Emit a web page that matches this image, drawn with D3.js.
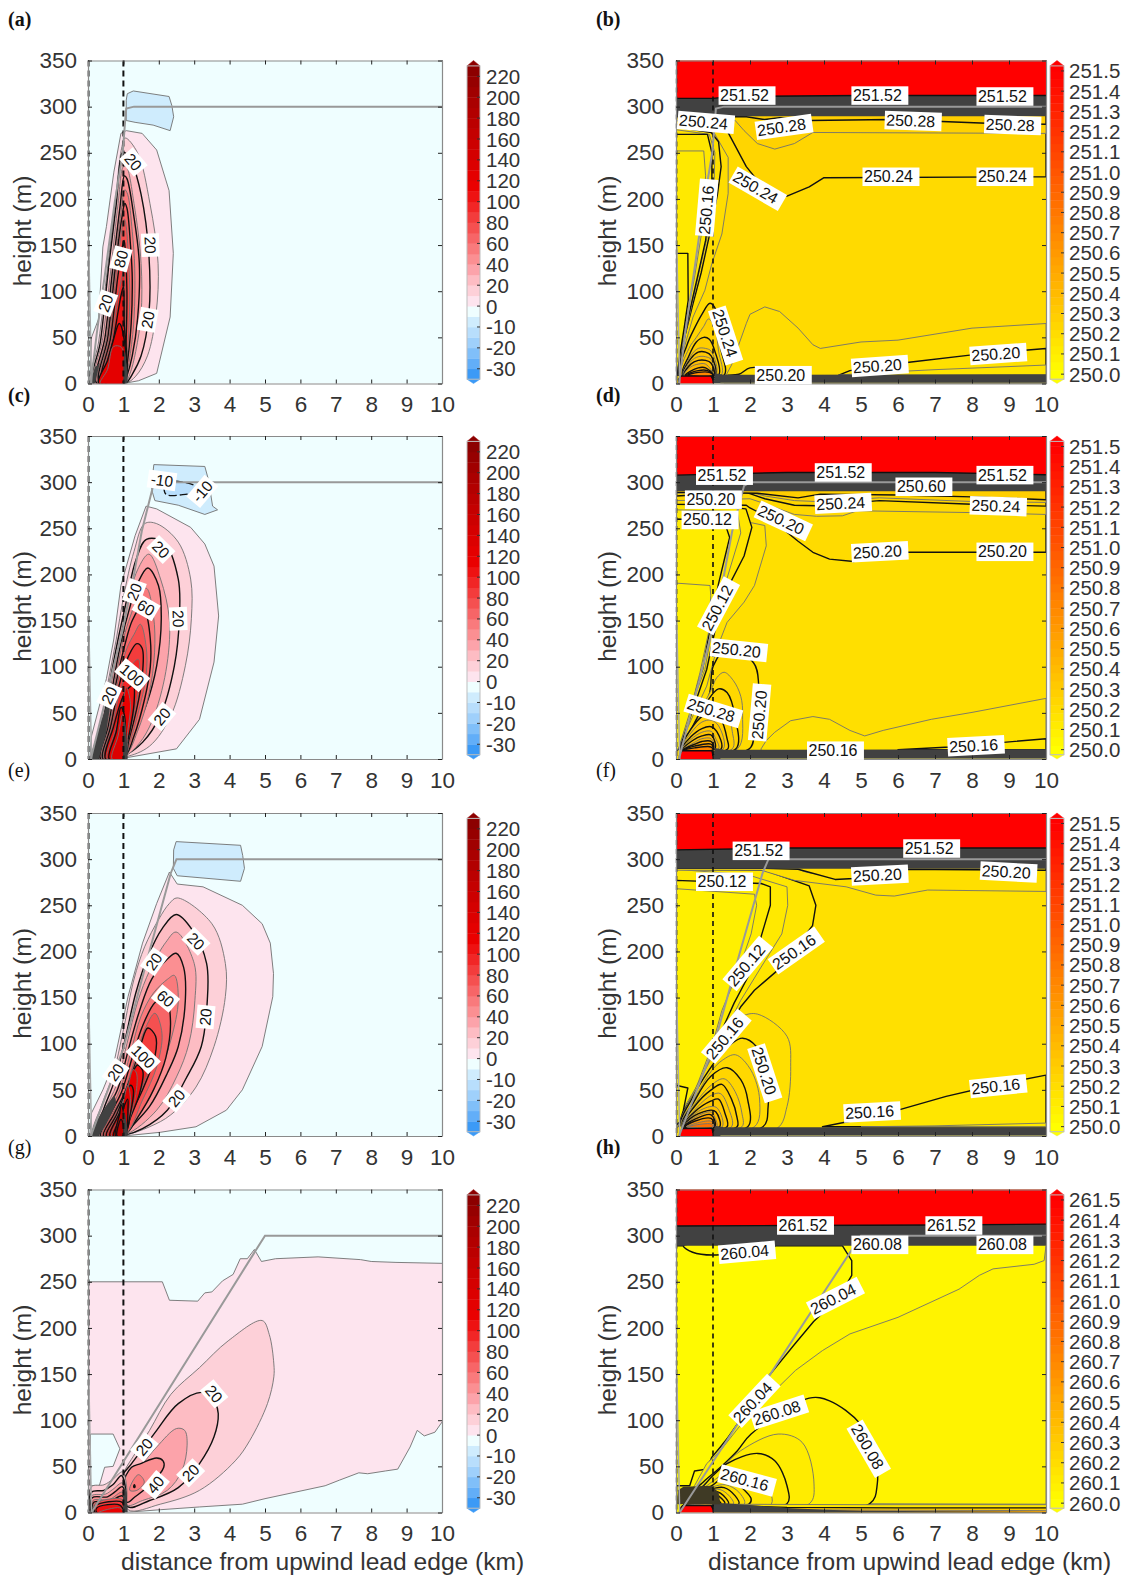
<!DOCTYPE html>
<html><head><meta charset="utf-8">
<script src="https://cdnjs.cloudflare.com/ajax/libs/d3/7.8.5/d3.min.js"></script>
<style>html,body{margin:0;padding:0;background:#fff}svg{display:block}</style></head>
<body><div id="chart"></div>
<script>
// ---------- tick labels ----------
const xTicks=[0,1,2,3,4,5,6,7,8,9,10];
const yTicks=[0,50,100,150,200,250,300,350];
const leftBarTicks=[-30,-20,-10,0,20,40,60,80,100,120,140,160,180,200,220];
const rightBarTicks=[0,.1,.2,.3,.4,.5,.6,.7,.8,.9,1,1.1,1.2,1.3,1.4,1.5];
// ---------- left colour bands ----------
const leftLevels=[-35,-30,-25,-20,-15,-10,-5,0,10,20,30,40,50,60,70,80,90,100,110,120,130,140,150,160,170,180,190,200,210,220,230];
const leftColors=['#3c9af6','#62aef8','#80bff9','#9fd0fb','#b8defc','#cfecfd','#effeff','#fde4ee','#fdd0d8','#fdbcc3','#fca3aa','#fb8f92','#f97a7c','#f76567','#f55050','#f33c3c','#f12626','#ee1212','#ea0000','#e40000','#dc0000','#d40000','#cc0000','#c40000','#bb0000','#b20000','#aa0000','#a00000','#960000','#8c0000'];
// ---------- vertical velocity contours: [level, (band), points km/m] ----------
const contoursA=[
[-5,-10,[[1.08,307],[1.11,314],[1.28,317],[2.29,311],[2.37,301],[2.42,289],[2.32,274],[1.84,280],[1.33,283],[1.08,285]]],
[0,[[.05,0],[.1,50],[.3,70],[.42,148],[.52,170],[.73,229],[.93,271],[1.08,274],[1.53,271],[1.94,253],[2.29,209],[2.41,141],[2.32,72],[1.94,11],[1.43,3],[1,0]]],
[10,[[.1,0],[.3,45],[.55,125],[.75,190],[.95,255],[1.05,266],[1.4,250],[1.75,195],[1.98,130],[1.92,75],[1.68,30],[1.35,8],[1.05,0]]],
[20,[[.15,0],[.35,45],[.58,125],[.8,195],[.97,250],[1.05,250],[1.25,238],[1.5,205],[1.72,140],[1.72,75],[1.5,30],[1.25,10],[1.05,0]]],
[30,[[.2,0],[.42,50],[.65,125],[.85,195],[1,235],[1.08,235],[1.3,195],[1.5,130],[1.5,75],[1.35,35],[1.18,10],[1.03,0]]],
[40,[[.25,0],[.48,50],[.7,125],[.9,190],[1.03,225],[1.1,222],[1.3,180],[1.45,130],[1.4,70],[1.25,30],[1.1,8],[1.02,0]]],
[50,[[.3,0],[.52,50],[.74,125],[.93,185],[1.04,210],[1.12,205],[1.25,165],[1.32,125],[1.3,70],[1.18,28],[1.08,8],[1.02,0]]],
[60,[[.33,0],[.56,50],[.77,125],[.95,178],[1.04,195],[1.1,190],[1.2,150],[1.25,115],[1.22,65],[1.12,25],[1.05,8],[1.01,0]]],
[70,[[.36,0],[.6,50],[.8,120],[.97,170],[1.03,178],[1.08,170],[1.15,130],[1.18,100],[1.15,55],[1.08,20],[1.01,0]]],
[80,[[.4,0],[.64,50],[.84,115],[.98,150],[1.02,155],[1.06,140],[1.1,100],[1.08,50],[1.04,15],[1.01,0]]],
[90,[[.45,0],[.68,50],[.88,100],[1,120],[1.03,110],[1.05,70],[1.03,20],[1.01,0]]],
[100,[[.5,0],[.73,50],[.93,95],[1,105],[1.02,70],[1.01,0]]],
[120,[[.3,0],[.55,25],[.7,45],[.88,65],[.97,58],[.99,0]]],
[110,120,[[.35,0],[.55,15],[.72,40],[.95,39],[.99,0]]],
[1,'dark',[[1,0],[1,25],[1.05,35],[1.12,8],[1.12,0]]],
[1,'dark',[[.05,0],[.2,18],[.33,22],[.2,0]]]
];
const contoursC=[
[-5,-10,[[1.86,319],[3.3,317],[3.4,303],[3.52,274],[3.66,270],[3.3,265],[2.55,275],[1.89,280],[1.82,289],[1.79,296]]],
[-10,-15,[[2.2,300],[3.05,296],[3.2,290],[2.8,287],[2.2,287]]],
[0,[[.05,0],[.1,25],[.52,87],[.73,130],[.93,188],[1.33,242],[1.64,274],[1.94,271],[2.9,251],[3.3,233],[3.56,209],[3.69,155],[3.56,105],[3.15,43],[2.5,11],[1.03,1]]],
[10,[[.15,0],[.35,35],[.55,80],[.8,130],[1,175],[1.3,225],[1.6,255],[1.94,255],[2.55,235],[2.9,195],[2.92,152],[2.75,101],[2.34,47],[1.74,14],[1.03,2]]],
[20,[[.2,0],[.4,35],[.6,80],[.85,130],[1.05,165],[1.35,215],[1.65,238],[2.14,235],[2.55,195],[2.58,152],[2.44,101],[2.04,47],[1.54,18],[1.03,4]]],
[30,[[.25,0],[.45,35],[.65,80],[.9,130],[1.1,165],[1.4,205],[1.72,222],[2.05,195],[2.3,150],[2.2,95],[1.82,42],[1.45,17],[1.03,3]]],
[40,[[.3,0],[.5,35],[.7,80],[.95,130],[1.15,160],[1.4,190],[1.69,207],[1.99,188],[2.07,152],[1.94,101],[1.64,58],[1.23,22],[1.03,3]]],
[50,[[.33,0],[.53,35],[.74,80],[1,130],[1.2,155],[1.45,178],[1.65,185],[1.85,155],[1.88,115],[1.72,70],[1.4,30],[1.03,3]]],
[60,[[.36,0],[.57,35],[.78,80],[1.05,125],[1.25,150],[1.5,165],[1.62,160],[1.76,130],[1.76,100],[1.6,65],[1.3,25],[1.03,3]]],
[70,[[.4,0],[.6,35],[.82,80],[1.1,120],[1.3,135],[1.48,146],[1.66,115],[1.62,85],[1.45,55],[1.2,20],[1.03,3]]],
[80,[[.43,0],[.64,35],[.88,80],[1.15,112],[1.38,125],[1.53,120],[1.52,85],[1.35,50],[1.15,20],[1.03,3]]],
[90,[[.46,0],[.68,35],[.92,75],[1.2,100],[1.42,108],[1.42,75],[1.25,40],[1.1,15],[1.02,3]]],
[100,[[.5,0],[.72,35],[.96,65],[1.1,75],[1.28,80],[1.3,60],[1.18,30],[1.06,10],[1.02,2]]],
[110,[[.55,0],[.76,30],[1,65],[1.08,78],[1.2,60],[1.12,30],[1.02,2]]],
[120,[[.6,0],[.8,30],[.93,56],[1,52],[1.06,20],[1,0]]],
[130,[[.68,0],[.85,25],[.97,48],[.99,48],[1,0]]],
[1,'dark',[[.99,0],[.99,38],[1.03,42],[1.12,10],[1.12,0]]],
[1,'dark',[[.05,0],[.2,20],[.55,62],[.62,58],[.5,25],[.3,0]]]
];
const contoursE=[
[-5,-10,[[2.49,319],[4.31,315],[4.37,304],[4.42,290],[4.31,276],[2.52,282],[2.41,290],[2.42,310]]],
[0,[[.05,0],[.1,25],[.42,50],[.73,79],[1.13,151],[1.54,209],[1.94,252],[2.3,286],[2.52,273],[3.25,270],[4.36,250],[4.92,230],[5.15,209],[5.24,176],[5.22,151],[4.92,97],[4.36,50],[3.91,28],[3.05,10],[2.04,4],[1,0]]],
[10,[[.15,0],[.4,35],[.7,65],[1,115],[1.3,170],[1.6,205],[2,235],[2.3,252],[2.52,258],[3.5,230],[3.88,187],[3.88,151],[3.56,97],[3.05,53],[2.34,23],[1.74,10],[1.03,1]]],
[20,[[.2,0],[.45,30],[.75,60],[1.05,105],[1.35,155],[1.7,195],[2.1,225],[2.49,240],[2.95,223],[3.35,187],[3.37,147],[3.2,97],[2.75,61],[2.24,28],[1.54,8],[1.03,1]]],
[30,[[.25,0],[.5,30],[.8,55],[1.1,100],[1.4,145],[1.75,180],[2.2,210],[2.49,221],[3,187],[3.02,147],[2.85,100],[2.5,64],[1.94,28],[1.03,1]]],
[40,[[.3,0],[.55,28],[.85,52],[1.15,95],[1.45,135],[1.8,170],[2.25,192],[2.49,198],[2.7,183],[2.75,147],[2.55,97],[2.24,68],[1.74,32],[1.13,6],[1.03,1]]],
[50,[[.33,0],[.6,26],[.9,50],[1.2,90],[1.5,130],[1.85,155],[2.25,170],[2.44,174],[2.55,147],[2.34,104],[1.94,61],[1.43,25],[1.03,1]]],
[60,[[.36,0],[.65,25],[.95,48],[1.25,85],[1.55,120],[1.9,145],[2.2,150],[2.33,125],[2.2,85],[1.85,50],[1.4,20],[1.03,1]]],
[70,[[.4,0],[.7,25],[1,45],[1.3,80],[1.6,115],[1.89,133],[2.09,111],[1.94,75],[1.54,39],[1.03,1]]],
[80,[[.44,0],[.74,24],[1.05,48],[1.35,80],[1.5,100],[1.69,117],[1.91,108],[1.89,86],[1.54,50],[1.13,17],[1.03,1]]],
[90,[[.48,0],[.78,24],[1.1,50],[1.4,82],[1.55,92],[1.72,88],[1.7,72],[1.45,45],[1.15,15],[1.02,1]]],
[100,[[.52,0],[.82,24],[1.1,52],[1.3,72],[1.4,77],[1.55,70],[1.45,45],[1.2,20],[1.02,1]]],
[110,[[.57,0],[.85,24],[1.1,50],[1.28,72],[1.37,68],[1.35,45],[1.15,15],[1.02,1]]],
[120,[[.62,0],[.88,24],[1.05,40],[1.2,55],[1.28,50],[1.2,25],[1.02,1]]],
[130,[[.67,0],[.9,22],[1.13,55],[1.2,38],[1.08,10],[1.02,0]]],
[140,[[.72,0],[.93,20],[1,30],[1.12,40],[1.13,30],[1.03,0]]],
[160,[[.78,0],[.9,25],[.93,34],[.99,28],[1,0]]],
[180,[[.82,0],[.93,18],[.98,15],[.99,0]]],
[1,'dark',[[1,0],[1,28],[1.06,22],[1.12,6],[1.12,0]]],
[1,'dark',[[.05,0],[.2,14],[.5,32],[.75,45],[.8,35],[.5,12],[.3,0]]]
];
const contoursG=[
[0,[[.02,0],[.02,250],[2.1,250],[2.3,230],[3.1,229],[3.3,238],[3.5,239],[3.8,251],[4.1,258],[4.3,275],[4.5,275],[4.7,285],[4.9,272],[5.3,275],[6.5,277],[7.7,274],[8,272],[8.7,271],[10,270],[10.05,270],[10.05,98],[10,98],[9.8,87],[9.5,83],[9.3,89],[9.1,71],[8.75,47],[8.4,45],[7.9,42],[7.65,43],[7.1,35],[6.7,29],[5,15],[4.36,9],[3.15,6],[2.04,3],[1,0]]],
[0,-5,[[.07,85],[.71,85],[.9,69],[.71,50],[.47,49],[.32,29],[.07,29]]],
[10,[[.98,38],[1.33,64],[1.74,89],[2.34,128],[3.15,157],[3.96,186],[4.92,208],[5.12,193],[5.25,161],[5.25,147],[5.07,118],[4.57,78],[4.16,56],[3.15,24],[2.04,9],[1.13,3]]],
[20,[[.93,36],[1.23,53],[1.69,76],[1.94,89],[2.55,118],[3.25,130],[3.6,118],[3.68,107],[3.56,82],[3.15,53],[2.55,27],[1.74,13],[1.13,6]]],
[30,[[.98,31],[1.54,53],[1.94,71],[2.5,91],[2.73,89],[2.8,73],[2.65,45],[2.24,24],[1.54,13],[1.11,8]]],
[40,[[.98,29],[1.23,49],[1.49,53],[1.94,59],[2.12,56],[2.14,49],[1.75,30],[1.33,17],[1.11,11]]],
[50,[[1.43,41],[1.59,33],[1.38,24],[1.18,24],[1.25,33]]],
[60,[[1.29,28],[1.31,30],[1.33,28],[1.31,27]]],
[10,[[.1,0],[.1,28],[.45,30],[.7,36],[.98,44],[1,0]]],
[20,[[.1,0],[.1,22],[.45,24],[.7,30],[.95,40],[1,0]]],
[30,[[.1,0],[.1,18],[.5,20],[.7,25],[.97,32],[1,0]]],
[40,[[.12,0],[.12,16],[.55,17],[.75,22],[.97,28],[1,0]]],
[50,[[.14,0],[.14,13],[.6,14],[.97,22],[1,0]]],
[60,[[.16,0],[.16,11],[.6,12],[.97,18],[1,0]]],
[70,[[.18,0],[.18,9],[.97,14],[1,0]]],
[80,[[.2,0],[.2,7],[.97,11],[1,0]]],
[100,[[.25,0],[.25,5],[.9,8],[1,0]]],
[110,[[.3,0],[.9,5],[1,0]]],
[1,'dark',[[.99,0],[.99,24],[1.05,26],[1.12,6],[1.12,0]]]
];
// ---------- temperature contours, offset above baseline: [level, band, points km/m] ----------
const contoursB=[
[.22,.2,[[0,281],[1.01,273],[1.41,245],[1.41,206],[1.24,162],[.97,130],[.78,101],[.46,72],[.18,33],[.1,9],[0,9]]],
[.2,.18,[[0,278],[.95,272],[1.15,262],[1.22,235],[1.12,205],[.9,160],[.68,120],[.45,85],[.18,42],[.08,9],[0,9]]],
[.18,.17,[[0,275],[.9,270],[1.05,250],[1.03,215],[.88,165],[.62,120],[.4,80],[.15,35],[.06,9],[0,9]]],
[.16,.15,[[0,270],[.85,270],[.97,250],[.97,210],[.8,155],[.55,110],[.35,75],[.14,30],[.05,9],[0,9]]],
[.14,.13,[[0,252],[.75,252],[.8,225],[.7,165],[.5,115],[.28,70],[.12,30],[.04,9],[0,9]]],
[.12,.11,[[0,141],[.32,141],[.33,90],[.22,60],[.1,30],[.03,9],[0,9]]],
[.22,.2,[[10,65],[8,60],[6,47],[5,45],[3.9,38],[3.7,42],[3.3,60],[2.8,78],[2.4,83],[2,75],[1.9,65],[1.5,20],[1.3,5],[1.3,0],[10,0]]],
[.2,.18,[[10,38],[8,31],[6.3,23],[4.7,14],[4.4,9],[10,9]]],
[.18,.16,[[10,20],[7,15],[5,11],[4.4,9],[10,9]]],
[.2,.18,[[1.4,9],[1.7,10],[2,17],[2.4,15],[2.6,9]]],
[.24,.25,[[.12,9],[.3,42],[.5,60],[.7,75],[.92,87],[1.1,78],[1.2,40],[1.3,9]]],
[.26,.27,[[.15,9],[.35,38],[.55,50],[.75,62],[.88,70],[1.05,60],[1.15,35],[1.22,9]]],
[.28,.29,[[.18,9],[.35,30],[.55,45],[.75,50],[.9,48],[1.05,35],[1.15,9]]],
[.3,.31,[[.2,9],[.4,30],[.6,38],[.8,38],[.95,35],[1.08,9]]],
[.32,.33,[[.2,9],[.4,27],[.6,34],[.8,34],[.95,30],[1.05,9]]],
[.34,.35,[[.2,9],[.4,24],[.6,29],[.8,29],[.95,26],[1.03,9]]],
[.36,.38,[[.22,9],[.4,21],[.6,25],[.8,25],[.95,22],[1.02,9]]],
[.42,.42,[[.22,9],[.4,18],[.6,21],[.8,21],[1,9]]],
[.48,.48,[[.25,9],[.6,17],[.8,17],[1,9]]],
[.56,.56,[[.25,9],[.6,14],[.85,14],[1,9]]],
[.72,.7,[[.3,9],[.6,12],[.9,12],[1,9]]],
[.24,.25,[[10,224],[4,223],[3.6,213],[3,203],[2.5,205],[1.9,235],[1.5,265],[1.3,280],[1,285],[0,285],[0,300],[10,300]]],
[.26,.27,[[10,271],[3.7,272],[3.2,260],[2.67,254],[2.2,260],[1.84,274],[1.6,285],[0,285],[0,300],[10,300]]],
[.28,.29,[[10,281],[8.4,282],[5.8,286],[3.6,285],[2.8,288],[2.4,286],[1.9,289],[0,289],[0,300],[10,300]]],
[.5,'dark',[[-.1,289.5],[10.1,289.5],[10.1,320],[-.1,320]]],
[1.52,'red',[[-.1,309],[1,309],[1.5,311],[5,312],[10.1,312],[10.1,360],[-.1,360]]],
[.5,'dark',[[1.02,0],[1.05,11],[1.3,9.5],[3,9.5],[10.1,10],[10.1,0]]],
[.5,'olive',[[1.2,-1],[1.2,1.2],[10.1,1.2],[10.1,-1]]],
[1.52,'red',[[.06,-2],[.07,5],[.14,8],[.95,8],[1,4],[1.01,-2]]]
];
const contoursD=[
[.18,.17,[[0,273],[2.4,253],[2.44,231],[2.12,188],[1.84,170],[1.38,148],[1.1,119],[.83,79],[.46,47],[.14,18],[.05,10],[0,10]]],
[.16,.15,[[0,278],[1.89,271],[2.05,251],[1.84,220],[1.38,184],[1.1,148],[.83,97],[.46,54],[.12,14],[.05,10],[0,10]]],
[.14,.13,[[0,270],[1.66,268],[1.75,245],[1.29,184],[1.01,148],[.78,97],[.41,58],[.1,14],[.05,10],[0,10]]],
[.12,.11,[[0,260],[1.3,258],[1.45,240],[1.15,190],[.95,148],[.72,97],[.36,58],[.09,14],[.04,10],[0,10]]],
[.1,.09,[[0,190.6],[.92,188],[.94,177],[.88,137],[.65,94],[.37,50],[.09,14],[.04,10],[0,10]]],
[.18,.17,[[10,65.7],[8,50.5],[6.9,43],[5.6,31],[5.1,25],[4.7,31],[4.15,43],[3.7,46],[3.1,41.5],[2.67,29],[2.44,20],[2.3,11],[2.3,0],[10,0]]],
[.16,.15,[[10,22],[8.85,18],[7.4,13],[6,10],[10,10]]],
[.2,.21,[[.15,10],[.5,35],[.9,70],[1.01,101],[1.4,120],[2.1,104],[2.23,83],[2.12,29],[1.98,11]]],
[.22,.23,[[.15,10],[.5,40],[.95,75],[1.1,88],[1.3,94],[1.55,85],[1.75,68],[1.8,47],[1.66,11]]],
[.24,.25,[[.15,10],[.45,35],[.8,60],[1.15,76],[1.38,72],[1.6,45],[1.62,11]]],
[.26,.27,[[.15,10],[.45,32],[.8,52],[1.15,58],[1.4,48],[1.52,30],[1.52,11]]],
[.28,.29,[[.15,10],[.4,32],[.7,46],[1,50],[1.2,44],[1.38,22],[1.4,11]]],
[.3,.31,[[.15,10],[.4,28],[.7,40],[.95,42],[1.15,36],[1.28,11]]],
[.32,.33,[[.15,10],[.4,24],[.7,33],[.95,35],[1.1,30],[1.22,11]]],
[.34,.35,[[.18,10],[.4,21],[.7,29],[.95,30],[1.05,24],[1.15,11]]],
[.36,.38,[[.18,10],[.45,20],[.7,25],[.95,26],[1.05,11]]],
[.42,.42,[[.2,10],[.5,18],[.7,22],[.95,22],[1.02,11]]],
[.48,.48,[[.2,10],[.5,16],[.7,19],[.95,19],[1.01,11]]],
[.56,.56,[[.22,10],[.5,14],[.95,16],[1,11]]],
[.72,.7,[[.25,10],[.5,12],[.95,13],[1,10]]],
[.2,.21,[[10,224],[8,224],[6,224],[4.8,214],[4.15,216.6],[3.7,224],[3.3,236],[2.5,262],[2,272],[1.9,275],[0,276],[0,300],[10,300]]],
[.22,.23,[[10,265],[8,267],[4.9,269],[4.5,263.5],[3.8,263],[3.2,265],[2.3,278],[2,282],[0,280],[0,300],[10,300]]],
[.24,.25,[[10,274],[8,276],[5.5,280],[3.8,274.5],[3.2,275],[2.4,282],[1.9,289],[0,285],[0,300],[10,300]]],
[.26,.27,[[10,278],[8,279],[5.5,283],[3.8,279],[3.2,280],[2.4,285],[1.9,290],[0,288],[0,300],[10,300]]],
[.28,.29,[[10,281],[8,284],[6,286],[3.9,287],[3.3,283],[2.2,288],[0,289],[0,300],[10,300]]],
[.5,'dark',[[-.1,290],[10.1,290],[10.1,320],[-.1,320]]],
[1.52,'red',[[-.1,307.5],[3,310.5],[7,310.5],[10.1,308],[10.1,360],[-.1,360]]],
[.5,'dark',[[1.02,0],[1.05,12],[1.3,10],[3,10],[10.1,10.5],[10.1,0]]],
[.5,'olive',[[1.2,-1],[1.2,1.2],[10.1,1.2],[10.1,-1]]],
[1.52,'red',[[.08,-2],[.1,5],[.16,9],[.97,9],[1,4],[1.01,-2]]]
];
const contoursF=[
[.16,.15,[[0,289],[2.4,288],[3.6,271],[3.78,250],[3.69,228],[2.76,180],[2.12,158],[1.75,140],[1.2,104],[.92,79],[.65,50],[.18,21],[.05,10],[0,10]]],
[.14,.13,[[0,289],[1.94,283],[3,270],[3.02,250],[2.86,219],[2.3,183],[1.75,147],[1.29,111],[1.01,86],[.65,53],[.14,21],[.05,10],[0,10]]],
[.12,.11,[[0,277],[2.3,273.6],[2.55,270],[2.55,250],[2.3,216],[1.94,172],[1.57,144],[1.2,111],[.92,86],[.6,53],[.11,21],[0,10]]],
[.1,.09,[[0,268],[2.12,262],[2.18,250],[2.03,219],[1.66,176],[1.24,136],[.97,97],[.55,53],[.07,21],[0,10]]],
[.08,.08,[[0,55],[.32,52],[.2,28],[.1,15],[0,12]]],
[.16,.15,[[10,66],[8.6,55],[7.3,43],[6,28],[5.07,19],[3.96,10],[10,10]]],
[.14,.13,[[10,14],[7,11],[5,10],[10,10]]],
[.18,.19,[[.15,10],[.45,45],[.9,80],[1.35,115],[1.8,130],[2.21,132],[3,108],[3.1,75],[3,32],[2.72,8]]],
[.2,.21,[[.15,10],[.45,42],[.9,72],[1.2,88],[1.5,100],[1.8,106],[2.17,97],[2.45,65],[2.49,32],[2.35,10]]],
[.22,.23,[[.15,10],[.5,40],[.95,70],[1.25,82],[1.61,88],[2.03,71],[2.26,39],[2.12,10]]],
[.24,.25,[[.18,10],[.5,38],[.95,65],[1.38,74],[1.75,61],[1.94,39],[1.94,10]]],
[.26,.27,[[.18,10],[.5,34],[.95,55],[1.3,62],[1.6,48],[1.78,25],[1.78,10]]],
[.28,.29,[[.2,10],[.5,32],[.95,50],[1.24,56],[1.5,40],[1.65,20],[1.65,10]]],
[.3,.31,[[.2,10],[.5,28],[.95,44],[1.2,46],[1.42,30],[1.5,10]]],
[.32,.33,[[.2,10],[.5,26],[.95,38],[1.15,40],[1.32,25],[1.38,10]]],
[.34,.36,[[.2,10],[.5,24],[.95,32],[1.12,30],[1.25,10]]],
[.4,.4,[[.2,10],[.5,22],[.95,28],[1.08,26],[1.18,10]]],
[.46,.46,[[.22,10],[.5,20],[.95,26],[1.05,20],[1.1,10]]],
[.52,.52,[[.22,10],[.5,18],[.95,23],[1.05,10]]],
[.6,.6,[[.25,10],[.5,16],[.95,19],[1.03,10]]],
[.7,.7,[[.28,10],[.95,16],[1.01,10]]],
[.86,.85,[[.3,10],[.95,13],[1,10]]],
[.18,.19,[[10,265],[6.8,266.5],[5.9,260],[5.4,261],[4.6,270],[3.2,277],[2.3,288],[0,288],[0,300],[10,300]]],
[.18,.22,[[5,290],[4.3,283],[3.3,290],[3.3,300],[5,300]]],
[.2,.21,[[10,288],[8,288.5],[6,289],[4.8,279],[4.3,278],[3.3,289],[2.4,290],[0,290],[0,300],[10,300]]],
[.5,'dark',[[-.1,289.5],[10.1,289.5],[10.1,320],[-.1,320]]],
[1.52,'red',[[-.1,310],[3,312],[10.1,312],[10.1,360],[-.1,360]]],
[.5,'dark',[[1.02,0],[1.05,11],[1.3,9.5],[3,9.5],[10.1,9.5],[10.1,0]]],
[.5,'olive',[[1.2,-1],[1.2,1.2],[10.1,1.2],[10.1,-1]]],
[1.52,'red',[[.08,-2],[.12,5],[.18,8],[.97,8.5],[1,4],[1.01,-2]]]
];
const contoursH=[
[.04,.03,[[4.5,289],[4.75,273],[4.75,257],[4.38,232],[3.72,207],[3.2,182],[2.55,150],[1.9,120],[1.66,96],[1.4,81],[1.2,71],[.97,60],[.83,47],[.5,45],[.37,29],[.1,29],[0,29],[0,289]]],
[.04,.05,[[.2,289],[.45,282],[1.01,279],[2.7,289]]],
[.06,.07,[[10,289],[9.95,273],[9.68,269],[8.57,264],[8.2,257],[7.65,242],[6,211.5],[4.7,193.5],[3.96,175.5],[3.23,154],[2.58,128.5],[1.84,99.6],[1.2,67],[.83,53],[.5,29],[.1,10],[10,9]]],
[.08,.09,[[.2,10],[.74,33],[1.2,49],[1.66,67],[2.03,85],[3.6,124],[4.15,121],[4.98,96],[5.35,65],[5.44,31],[5.23,9.4]]],
[.1,.11,[[.2,10],[.74,30],[1.2,47],[1.75,67],[2.76,85],[3.41,76],[3.73,31],[3.6,9.4]]],
[.12,.13,[[.2,10],[.7,27],[1,40],[1.38,53],[2.21,64],[2.67,56],[3,29],[3,9.4]]],
[.14,.15,[[.2,10],[.7,25],[1,34],[1.3,42],[1.75,44],[2.3,36.5],[2.58,9.4]]],
[.16,.17,[[.2,10],[.7,23],[1,30],[1.38,40],[1.7,30],[2.03,15],[1.98,9.4]]],
[.18,.19,[[.2,10],[.6,22],[1,28],[1.35,30],[1.7,22],[1.85,9.4]]],
[.2,.21,[[.2,10],[.6,21],[1,26],[1.3,27],[1.6,18],[1.7,9.4]]],
[.22,.23,[[.2,10],[.6,20],[1,25],[1.25,24],[1.5,15],[1.55,9.4]]],
[.24,.25,[[.2,10],[.6,19],[1,23],[1.2,21],[1.42,9.4]]],
[.28,.28,[[.2,10],[.6,18],[1,21],[1.15,18],[1.32,9.4]]],
[.32,.32,[[.2,10],[.6,17],[1,19],[1.1,15],[1.22,9.4]]],
[.4,.4,[[.2,10],[.6,15],[1,16],[1.05,13],[1.12,9.4]]],
[.5,.5,[[.22,10],[.6,13],[1,13],[1.05,9.4]]],
[.5,'dark',[[-.1,289],[10.1,289],[10.1,320],[-.1,320]]],
[1.52,'red',[[-.1,310.5],[3,311],[7,311.5],[10.1,312.5],[10.1,360],[-.1,360]]],
[.1,.15,[[1,9],[5,8.5],[10.1,8.5],[10.1,-1],[1,-1]]],
[.16,.3,[[1,8],[3,5.5],[6,5],[10.1,5],[10.1,-1],[1,-1]]],
[.22,.5,[[1,6],[3,3],[6,2.5],[10.1,2],[10.1,-1],[1,-1]]],
[.5,'dark',[[1.02,-1],[1.02,10],[1.3,10],[2,8],[3,5],[4,3],[5,2],[10.1,.5],[10.1,-1]]],
[.5,'brown',[[.03,9],[.05,24],[.2,28],[.95,29],[1.15,22],[1.2,9]]],
[1.52,'red',[[.08,-2],[.12,5],[.18,7.5],[.95,7.5],[1,4],[1.01,-2]]]
];
// ---------- mixed-layer top lines ----------
const mixedA=[[.08,0],[.25,55],[.52,130],[.75,195],[.98,250],[1.04,280],[1.08,298],[1.3,300],[10,300]];
const mixedC=[[.08,0],[.5,65],[.98,140],[1.3,200],[1.52,247],[1.84,296],[2,300],[10,300]];
const mixedE=[[.08,0],[1,95],[1.7,195],[2.34,285],[2.5,300],[10,300]];
const mixedG=[[.1,0],[5,300],[10,300]];
const edgeLine=[[.02,150],[.1,0]];
// ---------- contour labels [text, km, m, angle] ----------
const labelsA=[['20',1.28,240,50],['20',.5,87,-70],['80',.93,135,-75],['20',1.76,150,88],['20',1.69,69,-80]];
const labelsC=[['-10',2.09,302,8],['-10',3.23,290,-50],['20',2.06,227,45],['20',1.31,181,-70],['60',1.64,164,30],['20',2.55,152,88],['100',1.25,91,40],['20',.6,69,-65],['20',2.09,46,-50]];
const labelsE=[['20',3.05,211,45],['20',1.86,189,-55],['60',2.19,149,40],['20',3.32,129,-85],['100',1.56,86,45],['20',.78,69,-55],['20',2.5,41,-50]];
const labelsG=[['20',3.56,128.5,50],['20',1.59,71,-50],['40',1.91,30,-50],['20',2.9,43,-45]];
const labelsB=[['251.52',1.92,312,0],['251.52',5.51,312,0],['251.52',8.89,311,0],['250.24',.81,283,5],['250.28',2.92,278,-8],['250.28',6.41,284.5,2],['250.28',9.1,280,2],['250.24',5.81,224,0],['250.24',8.89,224,0],['250.24',2.21,211,30],['250.16',.83,190.6,-85],['250.24',1.34,52,72],['250.20',2.9,9,0],['250.20',5.51,19,-4],['250.20',8.71,32,-4]];
const labelsD=[['251.52',1.31,307,0],['251.52',4.52,310.5,0],['251.52',8.89,307.6,0],['250.60',6.7,295,0],['250.20',1.01,281,0],['250.24',4.52,277,-3],['250.24',8.71,274,2],['250.12',.92,259,0],['250.20',2.9,258,25],['250.20',5.51,224.5,-3],['250.20',8.89,224.5,0],['250.12',1.15,166,-62],['250.20',1.7,118,6],['250.28',1.01,52,17],['250.20',2.26,50.5,-85],['250.16',4.31,9,0],['250.16',8.11,14.4,-3]];
const labelsF=[['251.52',2.3,309,0],['251.52',6.91,311.5,0],['250.12',1.31,275.5,0],['250.20',5.51,282.7,-3],['250.20',8.99,286,3],['250.12',1.94,187,-50],['250.16',3.25,201,-35],['250.16',1.36,108,-50],['250.20',2.4,68,72],['250.16',5.3,26,-3],['250.16',8.71,54,-6]];
const labelsH=[['261.52',3.5,311,0],['261.52',7.51,311,0],['260.04',1.92,282,-5],['260.08',5.51,290,0],['260.08',8.89,290,0],['260.04',4.31,232.5,-27],['260.04',2.12,121,-47],['260.08',2.79,108.7,-18],['260.16',1.92,34.7,15],['260.08',5.21,69,60]];

const W=1125,Hh=1579,H=323;
const rowTop=[60.5,436,813,1189.5], letterY=[20,396,771,1148];
const colX=[[88,442],[676,1046]], letterX=[8,596];
const rows=[
 {left:{id:'(a)',c:contoursA,l:labelsA,bold:true},right:{id:'(b)',c:contoursB,l:labelsB,base:250,body:.22,bold:true},mixed:mixedA},
 {left:{id:'(c)',c:contoursC,l:labelsC,bold:true},right:{id:'(d)',c:contoursD,l:labelsD,base:250,body:.19,bold:true},mixed:mixedC},
 {left:{id:'(e)',c:contoursE,l:labelsE,bold:false},right:{id:'(f)',c:contoursF,l:labelsF,base:250,body:.18,bold:false},mixed:mixedE},
 {left:{id:'(g)',c:contoursG,l:labelsG,bold:false},right:{id:'(h)',c:contoursH,l:labelsH,base:260,body:.05,bold:true},mixed:mixedG}
];
const svg=d3.select('#chart').append('svg').attr('width',W).attr('height',Hh).attr('viewBox',`0 0 ${W} ${Hh}`)
 .style('font-family','"Liberation Sans",Arial,sans-serif');
const leftBand=d3.scaleThreshold().domain(leftLevels.slice(1,-1)).range(leftColors);
const tempRamp=d3.scaleLinear().domain([0,1.5]).range(['#ffff00','#ff0000']).clamp(true);
const special={dark:'#414141',olive:'#8d8a58',red:'#ff0000',brown:'#3f3a25'};
const isEven=(v,step)=>Math.abs(v/step-Math.round(v/step))<1e-6;

function drawPanel(p,kind,mixed,row,col){
 const top=rowTop[row],[x0,x1]=colX[col];
 const x=d3.scaleLinear().domain([0,10]).range([x0,x1]);
 const y=d3.scaleLinear().domain([0,350]).range([top+H,top]);
 const g=svg.append('g');
 const cid=`clip${row}${col}`;
 g.append('clipPath').attr('id',cid).append('rect').attr('x',x0).attr('y',top).attr('width',x1-x0).attr('height',H);
 const body=g.append('g').attr('clip-path',`url(#${cid})`);
 const fillOf=b=>typeof b==='string'?special[b]:(kind==='left'?leftBand(b):tempRamp(b));
 body.append('rect').attr('x',x0).attr('y',top).attr('width',x1-x0).attr('height',H)
   .attr('fill',kind==='left'?leftBand(-5):tempRamp(p.body));
 const smooth=d3.line().x(d=>x(d[0])).y(d=>y(d[1])).curve(d3.curveCatmullRomClosed.alpha(.5));
 const poly=d3.line().x(d=>x(d[0])).y(d=>y(d[1])).curve(d3.curveLinearClosed);
 p.c.forEach(e=>{
  const lev=e[0],band=e.length===3?e[1]:e[0],pts=e[e.length-1];
  const flat=typeof band==='string'&&band!=='red';
  const angular=lev===0||typeof band==='string'||lev===-5||pts.some(q=>q[0]>=9.9||q[0]<=0);
  const black=kind==='left'?(lev%20===0&&lev!==0||lev===-10):isEven(lev,.04);
  const path=body.append('path').attr('d',(angular?poly:smooth)(pts)).attr('fill',fillOf(band))
   .attr('stroke',flat?'none':black?'#111':'#707070').attr('stroke-width',black?1.4:.9).attr('stroke-linejoin','round');
  if(lev===-10)path.attr('stroke-dasharray','8 3');
 });
 const dash=col===0?{w:2,d:'6 4'}:{w:1.6,d:'5 4'};
 [0,1].forEach(v=>g.append('line').attr('x1',x(v)+(v===0?.6:0)).attr('x2',x(v)+(v===0?.6:0)).attr('y1',y(350)).attr('y2',y(0))
   .attr('stroke',v===0?'#333':'#111').attr('stroke-width',dash.w).attr('stroke-dasharray',dash.d));
 const over=g.append('g').attr('clip-path',`url(#${cid})`);
 const straight=d3.line().x(d=>x(d[0])).y(d=>y(d[1]));
 over.append('path').attr('d',straight(edgeLine)).attr('fill','none').attr('stroke','#a8a8a8').attr('stroke-width',1.5);
 over.append('path').attr('d',straight(mixed)).attr('fill','none').attr('stroke','#999').attr('stroke-width',2);
 // axes
 const tickStyle=a=>{a.selectAll('path').attr('stroke','#8a8a8a').attr('stroke-width',1.2);
   a.selectAll('line').attr('stroke','#222');
   a.selectAll('text').attr('fill','#333').style('font-size','22.5px');
   a.attr('font-family',null);};
 g.append('g').attr('transform',`translate(0,${top+H})`).call(d3.axisBottom(x).tickValues(xTicks).tickFormat(d3.format('d')).tickSizeInner(-4).tickSizeOuter(0).tickPadding(13)).call(tickStyle);
 g.append('g').attr('transform',`translate(0,${top})`).call(d3.axisTop(x).tickValues(xTicks).tickFormat('').tickSizeInner(-4).tickSizeOuter(0)).call(tickStyle);
 g.append('g').attr('transform',`translate(${x0},0)`).call(d3.axisLeft(y).tickValues(yTicks).tickFormat(d3.format('d')).tickSizeInner(-4).tickSizeOuter(0).tickPadding(col===0?11:12)).call(tickStyle);
 g.append('g').attr('transform',`translate(${x1},0)`).call(d3.axisRight(y).tickValues(yTicks).tickFormat('').tickSizeInner(-4).tickSizeOuter(0)).call(tickStyle);
 // contour labels
 const fs=kind==='left'?15.5:16,bh=kind==='left'?18:18.5;
 p.l.forEach(([t,kx,kz,ang])=>{
  const lg=svg.append('g').attr('transform',`translate(${x(kx)},${y(kz)}) rotate(${ang})`);
  const rect=lg.append('rect').attr('fill','#fff');
  const tx=lg.append('text').text(t).attr('dominant-baseline','central').attr('fill','#111').style('font-size',fs+'px');
  const len=tx.node().getComputedTextLength();
  const w=len+(kind==='left'?6:8);
  rect.attr('x',-w/2).attr('y',-bh/2).attr('width',w).attr('height',bh);
  tx.attr('x',-w/2+(kind==='left'?3:1.5));
 });
 // axis title
 svg.append('text').text('height (m)').attr('transform',`translate(${col===0?31:x0-60},${top+H/2+9}) rotate(-90)`)
   .attr('text-anchor','middle').attr('fill','#333').style('font-size','24.6px');
 if(row===3)svg.append('text').text('distance from upwind lead edge (km)').attr('x',col===0?121:708).attr('y',1570)
   .attr('fill','#333').style('font-size','24.6px');
 svg.append('text').text(p.id).attr('x',letterX[col]).attr('y',letterY[row]+6).attr('fill','#111')
   .style('font-family','"Liberation Serif",serif').style('font-weight',p.bold?'bold':'normal').style('font-size','20px');
 // colour bar
 const bx=col===0?467:1050,bw=col===0?13:14,bTop=top+5.4,bBot=top+H-4.3;
 const barG=svg.append('g');
 if(kind==='left'){
  const by=d3.scaleLinear().domain([-35,0,230]).range([bBot,bBot-(7/30)*(bBot-bTop),bTop]);
  leftColors.forEach((c,i)=>barG.append('rect').attr('x',bx).attr('width',bw).attr('y',by(leftLevels[i+1])).attr('height',by(leftLevels[i])-by(leftLevels[i+1])+.4).attr('fill',c));
  tipsAndFrame(barG,bx,bw,bTop,bBot,top,H,'#8c0000',leftColors[0],'#9b1010','#3c9af6');
  leftBarTicks.forEach(v=>{
   barG.append('line').attr('x1',bx+bw-3).attr('x2',bx+bw).attr('y1',by(v)).attr('y2',by(v)).attr('stroke','#333');
   barG.append('text').text(v).attr('x',bx+bw+6).attr('y',by(v)).attr('dominant-baseline','central').attr('fill','#333').style('font-size','20.5px');
  });
 } else {
  const by=d3.scaleLinear().domain([-.025,1.525]).range([bBot,bTop]);
  const edges=d3.range(-.02,1.52,.04);
  edges.forEach(e=>{const t=Math.min(e+.04,1.525);barG.append('rect').attr('x',bx).attr('width',bw).attr('y',by(t)).attr('height',by(e)-by(t)+.4).attr('fill',tempRamp(e+.02));});
  barG.append('rect').attr('x',bx).attr('width',bw).attr('y',by(-.02)).attr('height',by(-.025)-by(-.02)+.4).attr('fill','#ffff00');
  tipsAndFrame(barG,bx,bw,bTop,bBot,top,H,'#ff0000','#ffff00','#ff0000','#e8e860');
  rightBarTicks.forEach(v=>{
   barG.append('line').attr('x1',bx+bw-3).attr('x2',bx+bw).attr('y1',by(v)).attr('y2',by(v)).attr('stroke','#333');
   barG.append('text').text((p.base+v).toFixed(1)).attr('x',bx+bw+5).attr('y',by(v)).attr('dominant-baseline','central').attr('fill','#333').style('font-size','20.5px');
  });
 }
}
function tipsAndFrame(g,bx,bw,bTop,bBot,top,H,cTop,cBot,sTop,sBot){
 g.append('path').attr('d',`M${bx},${bTop}L${bx+bw/2},${top}L${bx+bw},${bTop}Z`).attr('fill',cTop).attr('stroke',sTop).attr('stroke-width',.5);
 g.append('path').attr('d',`M${bx},${bBot}L${bx+bw/2},${top+H}L${bx+bw},${bBot}Z`).attr('fill',cBot).attr('stroke',sBot).attr('stroke-width',.5);
 g.append('rect').attr('x',bx).attr('y',bTop).attr('width',bw).attr('height',bBot-bTop).attr('fill','none').attr('stroke','#bdbdbd').attr('stroke-width',1);
}
rows.forEach((r,i)=>{drawPanel(r.left,'left',r.mixed,i,0);drawPanel(r.right,'right',r.mixed,i,1);});
</script></body></html>
